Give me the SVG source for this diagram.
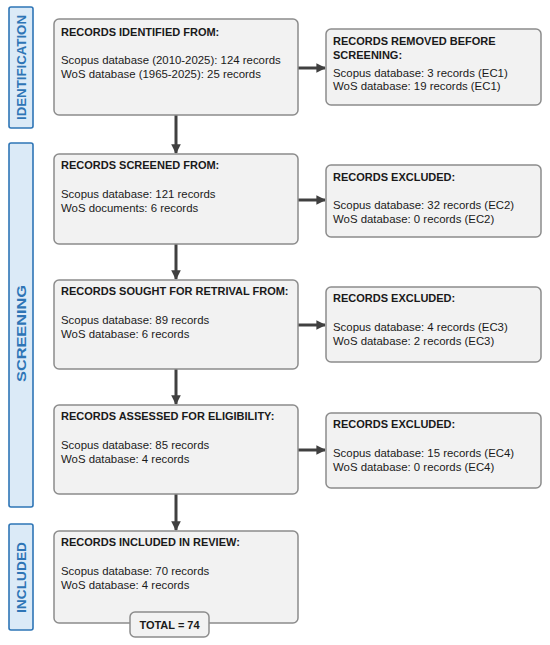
<svg xmlns="http://www.w3.org/2000/svg" width="550" height="645" viewBox="0 0 550 645">
<defs>
<marker id="ah" viewBox="0 0 10 10" refX="9" refY="5" markerWidth="3.2" markerHeight="3.2" markerUnits="strokeWidth" orient="auto">
<path d="M0,0 L10,5 L0,10 z" fill="#404040"/>
</marker>
<style>
.bar{fill:#dbeaf7;stroke:#2e75b6;stroke-width:1.6}
.barT{font-family:"Liberation Sans",Arial,sans-serif;font-weight:bold;font-size:13.5px;fill:#2e75b6}
.box{fill:#f2f2f2;stroke:#8c8c8c;stroke-width:1.5}
.t{font-family:"Liberation Sans",Arial,sans-serif;font-size:11.4px;fill:#1a1a1a}
.b{font-weight:bold;font-size:11px}
.c{stroke:#404040;stroke-width:3;fill:none}
</style>
</defs>
<rect width="550" height="645" fill="#ffffff"/>
<g id="phase-identification">
<rect class="bar" x="9" y="7" width="24" height="121" rx="2"/>
<text class="barT" transform="translate(26,120) rotate(-90)" textLength="105" lengthAdjust="spacingAndGlyphs">IDENTIFICATION</text>
</g>
<g id="phase-screening">
<rect class="bar" x="9" y="143" width="24" height="364" rx="2"/>
<text class="barT" transform="translate(26,382) rotate(-90)" textLength="97" lengthAdjust="spacingAndGlyphs">SCREENING</text>
</g>
<g id="phase-included">
<rect class="bar" x="9" y="524" width="24" height="106" rx="2"/>
<text class="barT" transform="translate(26,613) rotate(-90)" textLength="71" lengthAdjust="spacingAndGlyphs">INCLUDED</text>
</g>
<g id="connectors">
<line class="c" x1="176" y1="115" x2="176" y2="153" marker-end="url(#ah)"/>
<line class="c" x1="176" y1="244" x2="176" y2="279" marker-end="url(#ah)"/>
<line class="c" x1="176" y1="369" x2="176" y2="404" marker-end="url(#ah)"/>
<line class="c" x1="176" y1="494" x2="176" y2="530" marker-end="url(#ah)"/>
<line class="c" x1="298" y1="68" x2="325" y2="68" marker-end="url(#ah)"/>
<line class="c" x1="298" y1="200" x2="325" y2="200" marker-end="url(#ah)"/>
<line class="c" x1="298" y1="325" x2="325" y2="325" marker-end="url(#ah)"/>
<line class="c" x1="298" y1="450" x2="325" y2="450" marker-end="url(#ah)"/>
</g>
<g id="identified">
<rect class="box" x="54" y="19" width="244" height="96" rx="5"/>
<text class="t b" x="61" y="36">RECORDS IDENTIFIED FROM:</text>
<text class="t" x="61" y="64">Scopus database (2010-2025): 124 records</text>
<text class="t" x="61" y="78">WoS database (1965-2025): 25 records</text>
</g>
<g id="removed">
<rect class="box" x="326" y="29" width="215" height="76" rx="5"/>
<text class="t b" x="333" y="45">RECORDS REMOVED BEFORE</text>
<text class="t b" x="333" y="59">SCREENING:</text>
<text class="t" x="333" y="77">Scopus database: 3 records (EC1)</text>
<text class="t" x="333" y="90">WoS database: 19 records (EC1)</text>
</g>
<g id="screened">
<rect class="box" x="54" y="154" width="244" height="90" rx="5"/>
<text class="t b" x="61" y="169">RECORDS SCREENED FROM:</text>
<text class="t" x="61" y="198">Scopus database: 121 records</text>
<text class="t" x="61" y="212">WoS documents: 6 records</text>
</g>
<g id="excluded-ec2">
<rect class="box" x="326" y="165" width="215" height="72" rx="5"/>
<text class="t b" x="333" y="181">RECORDS EXCLUDED:</text>
<text class="t" x="333" y="209">Scopus database: 32 records (EC2)</text>
<text class="t" x="333" y="223">WoS database: 0 records (EC2)</text>
</g>
<g id="sought">
<rect class="box" x="54" y="280" width="244" height="89" rx="5"/>
<text class="t b" x="61" y="295">RECORDS SOUGHT FOR RETRIVAL FROM:</text>
<text class="t" x="61" y="324">Scopus database: 89 records</text>
<text class="t" x="61" y="338">WoS database: 6 records</text>
</g>
<g id="excluded-ec3">
<rect class="box" x="326" y="287" width="215" height="75" rx="5"/>
<text class="t b" x="333" y="302">RECORDS EXCLUDED:</text>
<text class="t" x="333" y="331">Scopus database: 4 records (EC3)</text>
<text class="t" x="333" y="345">WoS database: 2 records (EC3)</text>
</g>
<g id="assessed">
<rect class="box" x="54" y="405" width="244" height="89" rx="5"/>
<text class="t b" x="61" y="420">RECORDS ASSESSED FOR ELIGIBILITY:</text>
<text class="t" x="61" y="449">Scopus database: 85 records</text>
<text class="t" x="61" y="463">WoS database: 4 records</text>
</g>
<g id="excluded-ec4">
<rect class="box" x="326" y="413" width="215" height="75" rx="5"/>
<text class="t b" x="333" y="428">RECORDS EXCLUDED:</text>
<text class="t" x="333" y="457">Scopus database: 15 records (EC4)</text>
<text class="t" x="333" y="471">WoS database: 0 records (EC4)</text>
</g>
<g id="included">
<rect class="box" x="54" y="531" width="244" height="92" rx="5"/>
<text class="t b" x="61" y="546">RECORDS INCLUDED IN REVIEW:</text>
<text class="t" x="61" y="575">Scopus database: 70 records</text>
<text class="t" x="61" y="589">WoS database: 4 records</text>
</g>
<g id="total">
<rect class="box" x="130" y="612" width="79" height="25" rx="5"/>
<text class="t b" x="169.5" y="628.5" text-anchor="middle">TOTAL = 74</text>
</g>
</svg>
